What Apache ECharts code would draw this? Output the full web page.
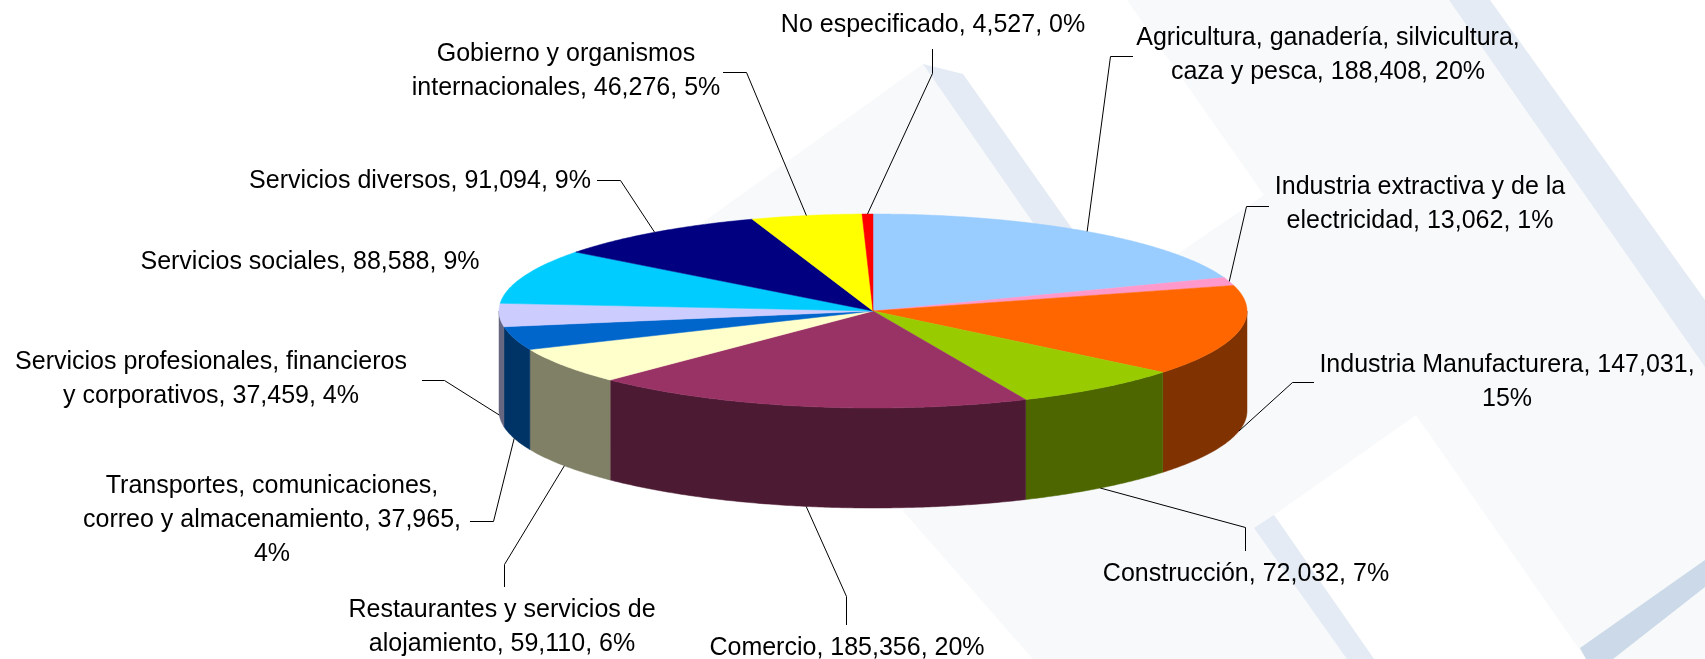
<!DOCTYPE html>
<html>
<head>
    <meta charset="utf-8">
    <title>Sectores</title>
    <script type="text/javascript" src="https://cdn.jsdelivr.net/npm/echarts@6/dist/echarts.min.js"></script>
    <style>
        html, body { margin: 0; padding: 0; background: #fff; }
    </style>
</head>
<body>
<div id="main" style="width: 1705px;height:659px;"></div>
<script type="text/javascript">
    // datos, en el orden de las manecillas desde las 12
    var categories = [
        'Agricultura, ganadería, silvicultura,\ncaza y pesca',
        'Industria extractiva y de la\nelectricidad',
        'Industria Manufacturera',
        'Construcción',
        'Comercio',
        'Restaurantes y servicios de\nalojamiento',
        'Transportes, comunicaciones,\ncorreo y almacenamiento',
        'Servicios profesionales, financieros\ny corporativos',
        'Servicios sociales',
        'Servicios diversos',
        'Gobierno y organismos\ninternacionales',
        'No especificado'
    ];
    var values = [188408, 13062, 147031, 72032, 185356, 59110, 37965, 37459, 88588, 91094, 46276, 4527];
    var percents = [20, 1, 15, 7, 20, 6, 4, 4, 9, 9, 5, 0];
    // el porcentaje va en su propia linea en estas etiquetas
    var pctOnNewLine = [2, 6];

    var colors = ['#99CCFF', '#FF99CC', '#FF6600', '#99CC00', '#993366', '#FFFFCC',
        '#0066CC', '#CCCCFF', '#00CCFF', '#000080', '#FFFF00', '#FF0000'];
    var sideColors = ['#4D6680', '#804D66', '#803300', '#4D6600', '#4D1A33', '#808066',
        '#003366', '#666680', '#006680', '#000040', '#808000', '#800000'];

    // geometria del pastel
    var cx = 873, cy = 311, rx = 374, ry = 97, depth = 100;

    // centro de cada etiqueta y codo/fin de cada linea guia
    var labelPos = [[1328, 55], [1420, 204], [1507, 382], [1246, 574], [847, 648], [502, 627],
        [272, 520], [211, 379], [310, 262], [420, 181], [566, 71], [933, 25]];
    var leaders = [
        [[1110.5, 56.5], [1133, 56.5]],
        [[1246.5, 206.5], [1269, 206.5]],
        [[1292.5, 382.5], [1314, 382.5]],
        [[1245.5, 527.5], [1245.5, 551]],
        [[846.5, 596.5], [846.5, 625]],
        [[504.5, 564.5], [504.5, 587]],
        [[493.5, 521.5], [470, 521.5]],
        [[444.5, 380.5], [422, 380.5]],
        null,
        [[620.5, 180.5], [597, 180.5]],
        [[746.5, 72.5], [723, 72.5]],
        [[932.5, 73.5], [932.5, 49]]
    ];

    var total = values.reduce(function (a, b) { return a + b; }, 0);

    function startAngle(i) {
        var sum = 0;
        for (var k = 0; k < i; k++) {
            sum += values[k];
        }
        return sum / total * 360;
    }

    function rimPoint(deg, dy) {
        var r = deg * Math.PI / 180;
        return [cx + rx * Math.sin(r), cy - ry * Math.cos(r) + (dy || 0)];
    }

    function arc(from, to, dy) {
        var pts = [];
        var n = Math.max(2, Math.ceil(Math.abs(to - from) * 2));
        for (var k = 0; k <= n; k++) {
            pts.push(rimPoint(from + (to - from) * k / n, dy));
        }
        return pts;
    }

    function labelText(i) {
        var sep = pctOnNewLine.indexOf(i) >= 0 ? ',\n' : ', ';
        return categories[i] + ', ' + values[i].toLocaleString('en-US') + sep + percents[i] + '%';
    }

    function renderSide(params, api) {
        var i = params.dataIndex;
        var a = startAngle(i);
        var b = a + api.value(0) / total * 360;
        // solo se ve la pared del frente
        var from = Math.max(a, 90), to = Math.min(b, 270);
        if (to <= from) {
            return null;
        }
        var pts = arc(from, to, 0).concat(arc(to, from, depth));
        return {
            type: 'polygon',
            shape: { points: pts },
            style: { fill: sideColors[i], stroke: sideColors[i], lineWidth: 0.5 }
        };
    }

    function renderTop(params, api) {
        var i = params.dataIndex;
        var a = startAngle(i);
        var b = a + api.value(0) / total * 360;
        var pts = [[cx, cy]].concat(arc(a, b, 0));
        return {
            type: 'polygon',
            shape: { points: pts },
            style: { fill: colors[i], stroke: colors[i], lineWidth: 0.5 }
        };
    }

    function renderLabel(params, api) {
        var i = params.dataIndex;
        var mid = startAngle(i) + api.value(0) / total * 180;
        var children = [];
        if (leaders[i]) {
            // las rebanadas del frente llevan la guia al borde inferior
            var front = mid > 90 && mid < 270;
            var pts = [rimPoint(mid, front ? depth : 0)].concat(leaders[i]);
            children.push({
                type: 'polyline',
                shape: { points: pts },
                style: { fill: null, stroke: '#000', lineWidth: 1 }
            });
        }
        children.push({
            type: 'text',
            style: {
                text: labelText(i),
                x: labelPos[i][0],
                y: labelPos[i][1],
                align: 'center',
                verticalAlign: 'middle',
                fill: '#000',
                font: '25px "Liberation Sans", Arial, sans-serif',
                lineHeight: 34
            }
        });
        return { type: 'group', children: children };
    }

    function bgPoly(points, color) {
        return { type: 'polygon', silent: true, shape: { points: points }, style: { fill: color } };
    }

    var myChart = echarts.init(document.getElementById('main'));

    var option = {
        animation: false,
        backgroundColor: '#ffffff',
        // fondo decorativo de la lamina
        graphic: { elements: [
            bgPoly([[702, 223], [923, 64], [1100, 310], [872, 400]], '#F7F9FB'),
            bgPoly([[1127, 0], [1449, 0], [1705, 367], [1705, 659], [1033, 659], [903, 511], [1000, 400], [1179, 253], [1264, 195]], '#F7F9FB'),
            bgPoly([[923, 64], [963, 74], [1085, 247], [1050, 247]], '#E4EBF4'),
            bgPoly([[1449, 0], [1490, 0], [1705, 300], [1705, 367]], '#E4EBF4'),
            bgPoly([[1416, 415], [1274, 515], [1374, 659], [1586, 659]], '#FFFFFF'),
            bgPoly([[1254, 528], [1274, 515], [1374, 659], [1347, 659]], '#E4EBF4'),
            bgPoly([[1580, 648], [1705, 560], [1705, 587], [1613, 659], [1586, 659]], '#CBD9E8')
        ] },
        series: [
            { type: 'custom', coordinateSystem: 'none', renderItem: renderSide, data: values, z: 2, silent: true },
            { type: 'custom', coordinateSystem: 'none', renderItem: renderTop, data: values, z: 3, silent: true },
            { type: 'custom', coordinateSystem: 'none', renderItem: renderLabel, data: values, z: 4, silent: true }
        ]
    };

    myChart.setOption(option);
</script>
</body>
</html>
